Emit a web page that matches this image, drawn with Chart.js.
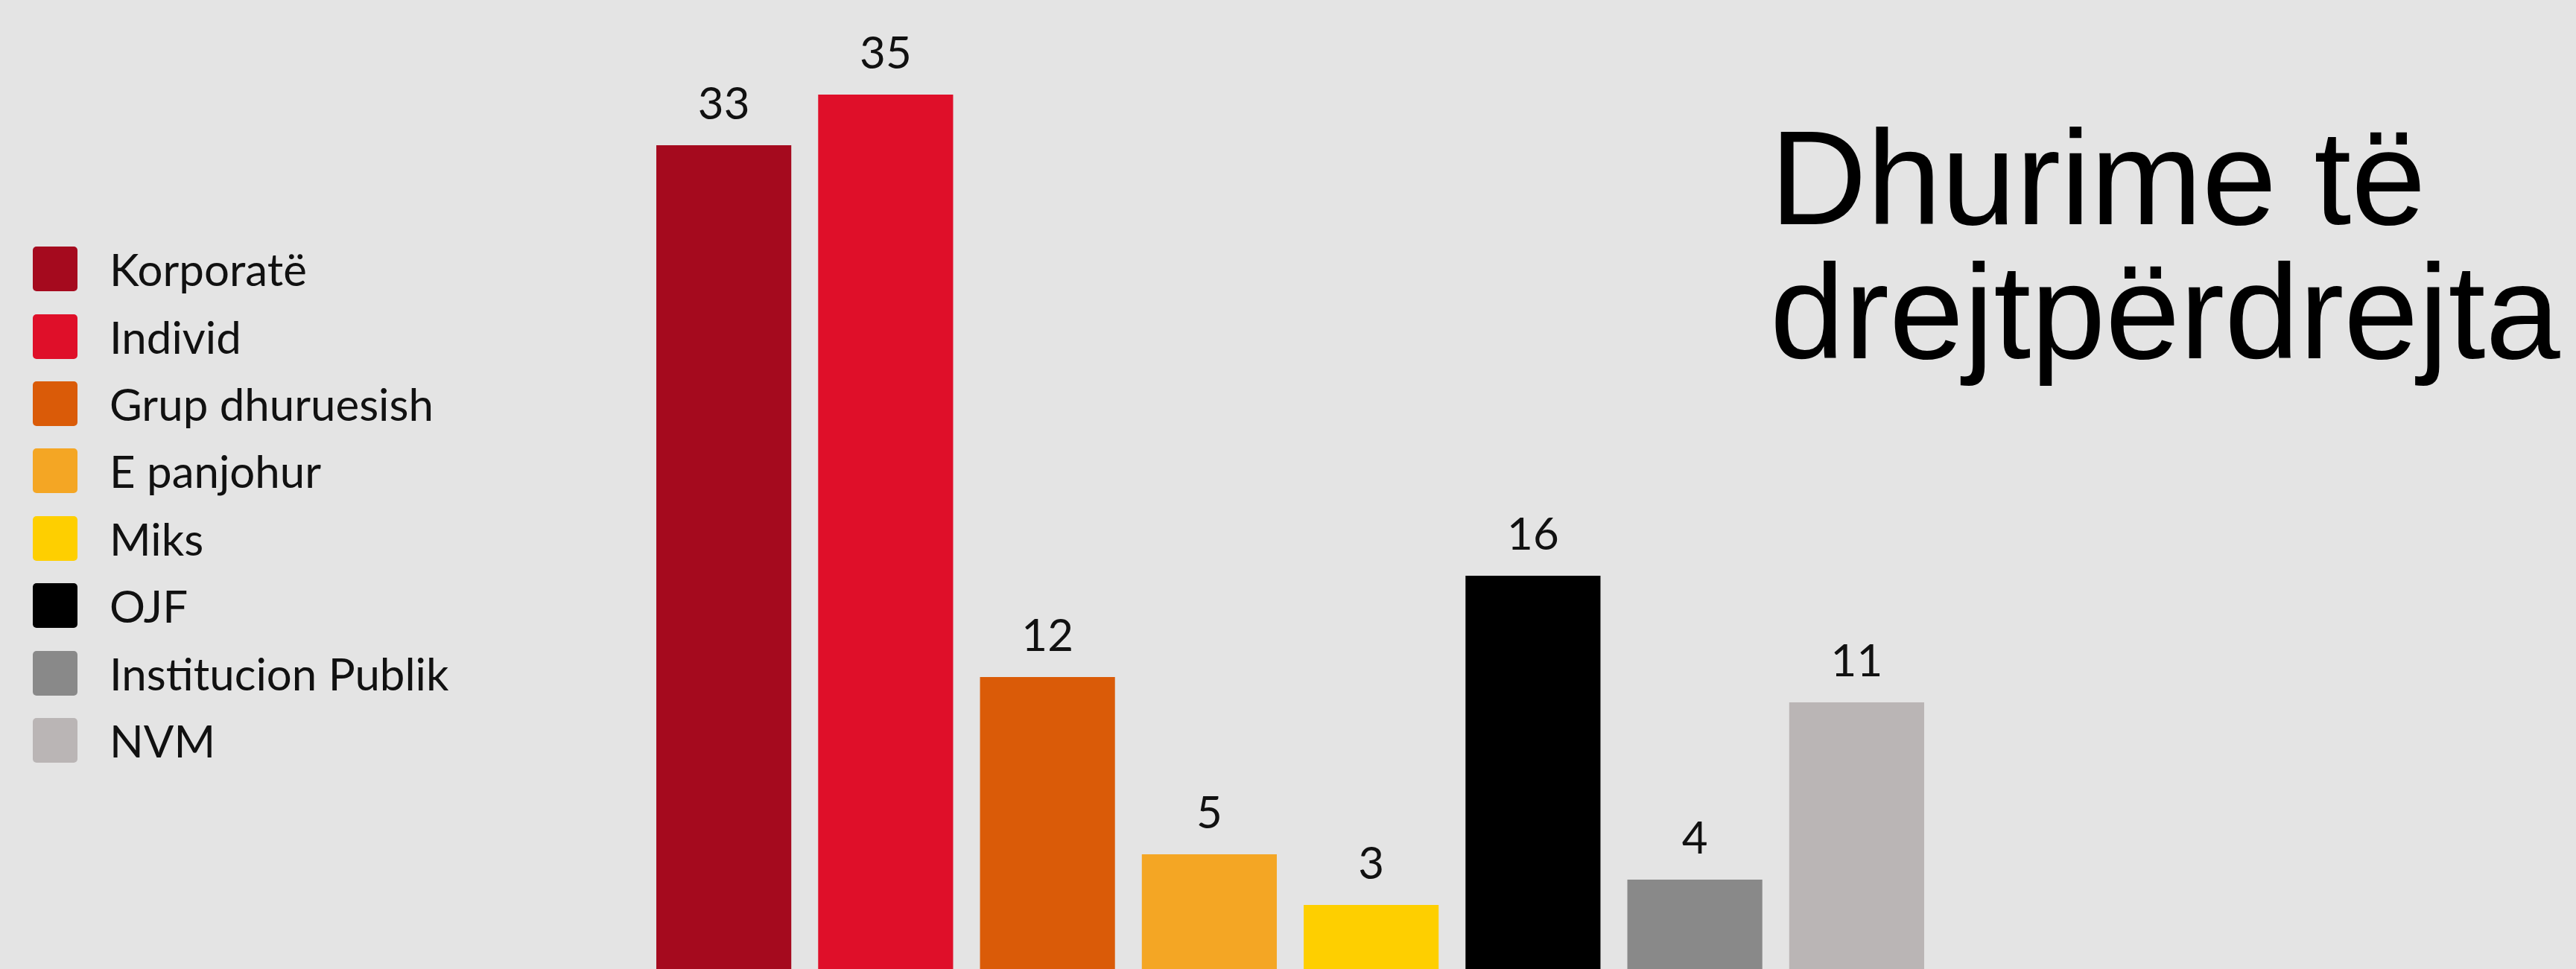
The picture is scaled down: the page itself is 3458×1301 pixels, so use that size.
<!DOCTYPE html>
<html>
<head>
<meta charset="utf-8">
<script src="https://cdn.jsdelivr.net/npm/chart.js@4"></script>
<style>
    html, body {
        margin: 0;
        padding: 0;
        width: 3458px;
        height: 1301px;
        overflow: hidden;
        background: #e4e4e4;
    }
    .wrap {
        position: absolute;
        left: 0;
        top: -43px;
        width: 3458px;
        height: 1360px;
    }
    .legend {
        position: absolute;
        left: 44px;
        top: 316px;
        font-family: Lato, sans-serif;
        font-size: 60px;
        color: #111;
    }
    .legend .row {
        display: flex;
        align-items: center;
        height: 90.4px;
        line-height: 1;
        white-space: nowrap;
    }
    .legend .box {
        width: 60px;
        height: 60px;
        border-radius: 5px;
        margin-right: 43px;
    }
    .title {
        position: absolute;
        left: 2376px;
        top: 149px;
        font-family: "Liberation Sans", Arial, sans-serif;
        font-size: 180px;
        line-height: 180px;
        color: #000;
        white-space: nowrap;
    }
</style>
</head>
<body>
<div class="wrap"><canvas id="chart"></canvas></div>
<div class="legend" id="legend"></div>
<div class="title">Dhurime të<br>drejtpërdrejta</div>

<script>
const categories = ["Korporatë", "Individ", "Grup dhuruesish", "E panjohur", "Miks", "OJF", "Institucion Publik", "NVM"];
const values = [33, 35, 12, 5, 3, 16, 4, 11];
const colors = ["#a50a1e", "#df0f29", "#da5b08", "#f4a624", "#fecf00", "#000000", "#898989", "#bab5b5"];

// legend
const legend = document.getElementById("legend");
categories.forEach((name, i) => {
    const row = document.createElement("div");
    row.className = "row";
    row.innerHTML = `<div class="box" style="background:${colors[i]}"></div><span>${name}</span>`;
    legend.appendChild(row);
});

// numbers above the bars
const valueLabels = {
    id: "valueLabels",
    afterDatasetsDraw(chart) {
        const ctx = chart.ctx;
        const meta = chart.getDatasetMeta(0);
        ctx.save();
        ctx.font = "60px Lato";
        ctx.fillStyle = "#111";
        ctx.textAlign = "center";
        ctx.textBaseline = "alphabetic";
        meta.data.forEach((bar, i) => {
            ctx.fillText(values[i], bar.x, bar.y - 35);
        });
        ctx.restore();
    }
};

new Chart(document.getElementById("chart"), {
    type: "bar",
    data: {
        labels: categories,
        datasets: [{
            data: values,
            backgroundColor: colors,
            borderWidth: 0,
            categoryPercentage: 1,
            barPercentage: 0.834
        }]
    },
    options: {
        responsive: true,
        maintainAspectRatio: false,
        animation: false,
        layout: {
            padding: { left: 863, right: 857, top: 0, bottom: 0 }
        },
        plugins: {
            legend: { display: false },
            tooltip: { enabled: false }
        },
        scales: {
            x: { display: false },
            y: { display: false, min: 0, max: 40 }
        }
    },
    plugins: [valueLabels]
});
</script>
</body>
</html>
